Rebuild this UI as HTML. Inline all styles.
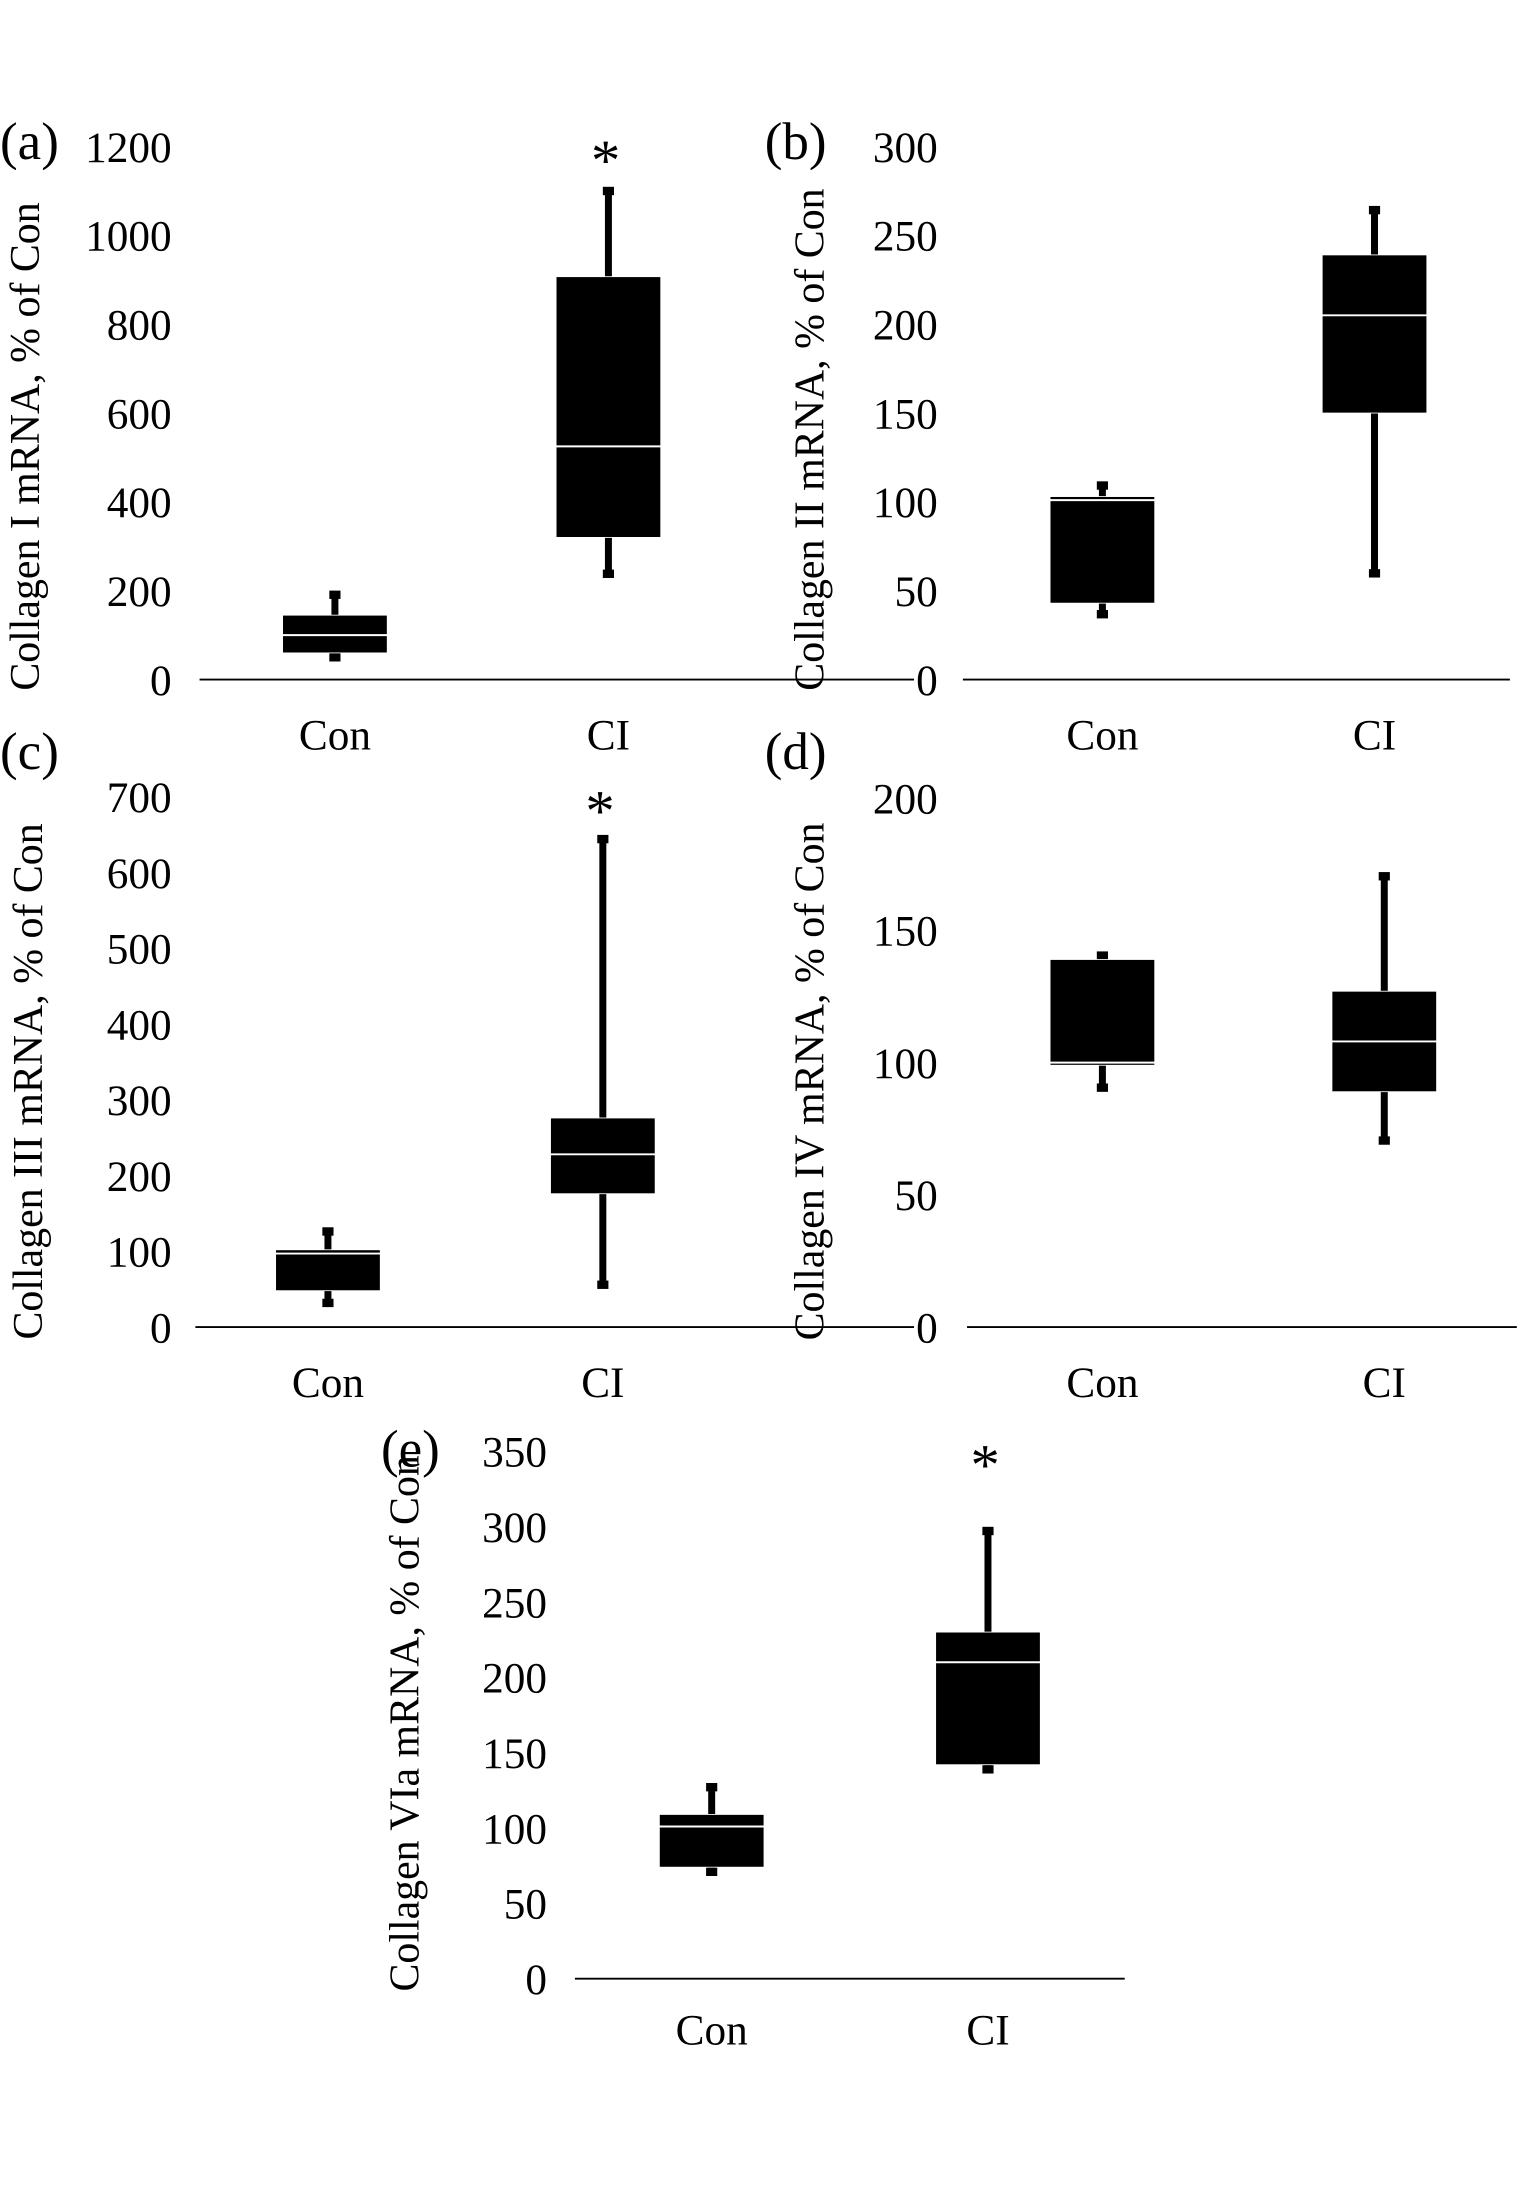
<!DOCTYPE html>
<html><head><meta charset="utf-8"><title>Collagen mRNA box plots</title>
<style>
html,body{margin:0;padding:0;background:#fff;}
svg{display:block;}
text{font-family:"Liberation Serif",serif;fill:#000;}
</style></head>
<body>
<svg id="fig" width="1535" height="2195" viewBox="0 0 1100 1573" xmlns="http://www.w3.org/2000/svg"></svg>
<script>
// ---- data ----
const categories = ["Con", "CI"];
const panelLetters = ["(a)", "(b)", "(c)", "(d)", "(e)"];
const panelTitles = ["Collagen I mRNA, % of Con", "Collagen II mRNA, % of Con", "Collagen III mRNA, % of Con", "Collagen IV mRNA, % of Con", "Collagen VIa mRNA, % of Con"];
const yMax = [1200, 300, 700, 200, 350];
const yStep = [200, 50, 100, 50, 50];
const whiskerMin = [[47, 235], [36, 59], [30, 54], [90, 70], [70, 138]];
const boxQ1 = [[60, 320], [43, 150], [48, 176], [99, 89], [74, 142]];
const boxMedian = [[100, 525], [101, 205], [97, 228], [100, 108], [101, 210]];
const boxQ3 = [[145, 907], [103, 239], [102, 276], [139, 127], [109, 230]];
const whiskerMax = [[194, 1103], [110, 265], [128, 646], [141, 171], [128, 298]];
const significant = [[false, true], [false, false], [false, true], [false, false], [false, true]];

// ---- layout (display units) ----
const layouts = [
  {x0:143, x1:655, y0:487, yTop:105, labelX:123, cx:[240,436], letterX:0, letterY:114, titleX:28, titleY:320, xlabY:537},
  {x0:690, x1:1082, y0:487, yTop:105, labelX:672, cx:[790,985], letterX:548, letterY:114, titleX:590, titleY:315, xlabY:537},
  {x0:140, x1:655, y0:951, yTop:571, labelX:123, cx:[235,432], letterX:0, letterY:551, titleX:30, titleY:775, xlabY:1001},
  {x0:693, x1:1087, y0:951, yTop:572, labelX:672, cx:[790,992], letterX:548, letterY:551, titleX:590, titleY:775, xlabY:1001},
  {x0:412, x1:806, y0:1418, yTop:1040, labelX:392, cx:[510,708], letterX:273, letterY:1051, titleX:300, titleY:1235, xlabY:1465}
];
const boxW = 75;
const svg = document.getElementById('fig');
const NS = 'http://www.w3.org/2000/svg';
function mk(tag, attrs, parent){
  const e = document.createElementNS(NS, tag);
  for (const k in attrs) e.setAttribute(k, attrs[k]);
  (parent||svg).appendChild(e);
  return e;
}
const keys = ['a','b','c','d','e'];
for (let p = 0; p < 5; p++) {
  const L = layouts[p];
  const g = mk('g', {});
  
  
  const yScale = v => L.y0 - (v / yMax[p]) * (L.y0 - L.yTop);
  const lt = mk('text', {x: L.letterX, y: L.letterY, 'font-size': 38}, g);
  lt.textContent = panelLetters[p];
  
  
  const ymid = L.titleY;
  const tt = mk('text', {x: L.titleX, y: ymid, 'font-size': 30, 'text-anchor': 'middle', transform: 'rotate(-90 ' + L.titleX + ' ' + ymid + ')'}, g);
  tt.textContent = panelTitles[p];
  
  
  for (let v = 0; v <= yMax[p]; v += yStep[p]) {
    const t = mk('text', {x: L.labelX, y: yScale(v) + 11, 'font-size': 31, 'text-anchor': 'end'}, g);
    t.textContent = String(v);
    
    
  }
  const ax = mk('line', {x1: L.x0, x2: L.x1, y1: L.y0, y2: L.y0, stroke: '#000', 'stroke-width': 1.3}, g);
  
  
  for (let c = 0; c < 2; c++) {
    const cx = L.cx[c];
    const xl = mk('text', {x: cx, y: L.xlabY, 'font-size': 31, 'text-anchor': 'middle'}, g);
    xl.textContent = categories[c];
    
    
    const yMn = yScale(whiskerMin[p][c]), yMx = yScale(whiskerMax[p][c]);
    const wl = mk('line', {x1: cx, x2: cx, y1: yMx, y2: yMn, stroke: '#000', 'stroke-width': 5}, g);
    
    
    const c1 = mk('rect', {x: cx - 4, y: yMx - 2, width: 8, height: 6, fill: '#000'}, g);
    
    
    const c2 = mk('rect', {x: cx - 4, y: yMn - 4, width: 8, height: 6, fill: '#000'}, g);
    
    
    const yq3 = yScale(boxQ3[p][c]), yq1 = yScale(boxQ1[p][c]);
    const bx = mk('rect', {x: cx - boxW/2, y: yq3, width: boxW, height: yq1 - yq3, fill: '#000', stroke: '#fff', 'stroke-width': 0.6}, g);
    
    
    const ym = yScale(boxMedian[p][c]);
    const md = mk('line', {x1: cx - boxW/2, x2: cx + boxW/2, y1: ym, y2: ym, stroke: '#fff', 'stroke-width': 1.4}, g);
    
    
    if (significant[p][c]) {
      const st = mk('text', {x: cx - 2, y: L.yTop + 24, 'font-size': 42, 'text-anchor': 'middle'}, g);
      st.textContent = '*';
      
      
    }
  }
}
</script>
</body></html>
